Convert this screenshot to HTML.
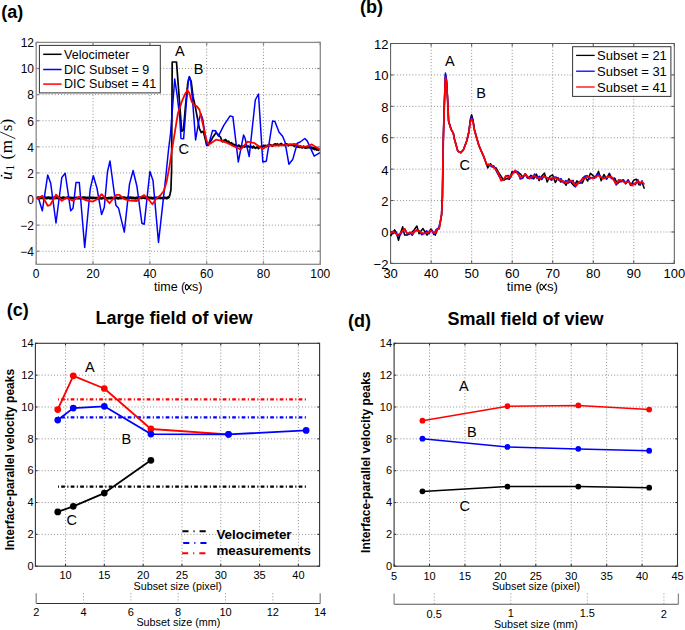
<!DOCTYPE html>
<html><head><meta charset="utf-8"><style>
html,body{margin:0;padding:0;background:#fff;overflow:hidden;width:685px;height:630px;}
svg{display:block;font-family:"Liberation Sans",sans-serif;}
</style></head><body>
<svg width="685" height="630" viewBox="0 0 685 630">
<rect width="685" height="630" fill="#fff"/>
<line x1="93.02" y1="42.40" x2="93.02" y2="264.30" stroke="#8f8f8f" stroke-width="1" stroke-dasharray="1 2.1"/>
<line x1="149.84" y1="42.40" x2="149.84" y2="264.30" stroke="#8f8f8f" stroke-width="1" stroke-dasharray="1 2.1"/>
<line x1="206.66" y1="42.40" x2="206.66" y2="264.30" stroke="#8f8f8f" stroke-width="1" stroke-dasharray="1 2.1"/>
<line x1="263.48" y1="42.40" x2="263.48" y2="264.30" stroke="#8f8f8f" stroke-width="1" stroke-dasharray="1 2.1"/>
<line x1="36.20" y1="251.25" x2="320.30" y2="251.25" stroke="#8f8f8f" stroke-width="1" stroke-dasharray="1 2.1"/>
<line x1="36.20" y1="225.14" x2="320.30" y2="225.14" stroke="#8f8f8f" stroke-width="1" stroke-dasharray="1 2.1"/>
<line x1="36.20" y1="199.04" x2="320.30" y2="199.04" stroke="#8f8f8f" stroke-width="1" stroke-dasharray="1 2.1"/>
<line x1="36.20" y1="172.93" x2="320.30" y2="172.93" stroke="#8f8f8f" stroke-width="1" stroke-dasharray="1 2.1"/>
<line x1="36.20" y1="146.82" x2="320.30" y2="146.82" stroke="#8f8f8f" stroke-width="1" stroke-dasharray="1 2.1"/>
<line x1="36.20" y1="120.72" x2="320.30" y2="120.72" stroke="#8f8f8f" stroke-width="1" stroke-dasharray="1 2.1"/>
<line x1="36.20" y1="94.61" x2="320.30" y2="94.61" stroke="#8f8f8f" stroke-width="1" stroke-dasharray="1 2.1"/>
<line x1="36.20" y1="68.51" x2="320.30" y2="68.51" stroke="#8f8f8f" stroke-width="1" stroke-dasharray="1 2.1"/>
<line x1="36.20" y1="264.30" x2="36.20" y2="261.30" stroke="#8a8a8a" stroke-width="1.3" />
<line x1="36.20" y1="42.40" x2="36.20" y2="45.40" stroke="#8a8a8a" stroke-width="1.3" />
<line x1="93.02" y1="264.30" x2="93.02" y2="261.30" stroke="#8a8a8a" stroke-width="1.3" />
<line x1="93.02" y1="42.40" x2="93.02" y2="45.40" stroke="#8a8a8a" stroke-width="1.3" />
<line x1="149.84" y1="264.30" x2="149.84" y2="261.30" stroke="#8a8a8a" stroke-width="1.3" />
<line x1="149.84" y1="42.40" x2="149.84" y2="45.40" stroke="#8a8a8a" stroke-width="1.3" />
<line x1="206.66" y1="264.30" x2="206.66" y2="261.30" stroke="#8a8a8a" stroke-width="1.3" />
<line x1="206.66" y1="42.40" x2="206.66" y2="45.40" stroke="#8a8a8a" stroke-width="1.3" />
<line x1="263.48" y1="264.30" x2="263.48" y2="261.30" stroke="#8a8a8a" stroke-width="1.3" />
<line x1="263.48" y1="42.40" x2="263.48" y2="45.40" stroke="#8a8a8a" stroke-width="1.3" />
<line x1="320.30" y1="264.30" x2="320.30" y2="261.30" stroke="#8a8a8a" stroke-width="1.3" />
<line x1="320.30" y1="42.40" x2="320.30" y2="45.40" stroke="#8a8a8a" stroke-width="1.3" />
<line x1="36.20" y1="251.25" x2="39.20" y2="251.25" stroke="#8a8a8a" stroke-width="1.3" />
<line x1="320.30" y1="251.25" x2="317.30" y2="251.25" stroke="#8a8a8a" stroke-width="1.3" />
<line x1="36.20" y1="225.14" x2="39.20" y2="225.14" stroke="#8a8a8a" stroke-width="1.3" />
<line x1="320.30" y1="225.14" x2="317.30" y2="225.14" stroke="#8a8a8a" stroke-width="1.3" />
<line x1="36.20" y1="199.04" x2="39.20" y2="199.04" stroke="#8a8a8a" stroke-width="1.3" />
<line x1="320.30" y1="199.04" x2="317.30" y2="199.04" stroke="#8a8a8a" stroke-width="1.3" />
<line x1="36.20" y1="172.93" x2="39.20" y2="172.93" stroke="#8a8a8a" stroke-width="1.3" />
<line x1="320.30" y1="172.93" x2="317.30" y2="172.93" stroke="#8a8a8a" stroke-width="1.3" />
<line x1="36.20" y1="146.82" x2="39.20" y2="146.82" stroke="#8a8a8a" stroke-width="1.3" />
<line x1="320.30" y1="146.82" x2="317.30" y2="146.82" stroke="#8a8a8a" stroke-width="1.3" />
<line x1="36.20" y1="120.72" x2="39.20" y2="120.72" stroke="#8a8a8a" stroke-width="1.3" />
<line x1="320.30" y1="120.72" x2="317.30" y2="120.72" stroke="#8a8a8a" stroke-width="1.3" />
<line x1="36.20" y1="94.61" x2="39.20" y2="94.61" stroke="#8a8a8a" stroke-width="1.3" />
<line x1="320.30" y1="94.61" x2="317.30" y2="94.61" stroke="#8a8a8a" stroke-width="1.3" />
<line x1="36.20" y1="68.51" x2="39.20" y2="68.51" stroke="#8a8a8a" stroke-width="1.3" />
<line x1="320.30" y1="68.51" x2="317.30" y2="68.51" stroke="#8a8a8a" stroke-width="1.3" />
<line x1="36.20" y1="42.40" x2="39.20" y2="42.40" stroke="#8a8a8a" stroke-width="1.3" />
<line x1="320.30" y1="42.40" x2="317.30" y2="42.40" stroke="#8a8a8a" stroke-width="1.3" />
<rect x="36.20" y="42.40" width="284.10" height="221.90" fill="none" stroke="#8a8a8a" stroke-width="1.3"/>
<g fill="none" stroke-linejoin="round">
<polyline points="37.0,197.9 38.2,197.7 39.4,197.9 40.6,197.8 41.8,198.0 43.0,198.0 44.2,197.6 45.4,197.5 46.6,198.2 47.8,197.7 49.0,197.7 50.2,198.3 51.4,197.9 52.6,198.2 53.8,197.9 55.0,198.0 56.2,197.6 57.4,198.0 58.6,198.2 59.8,197.9 61.0,198.1 62.2,198.0 63.4,197.6 64.6,198.1 65.8,198.0 67.0,197.7 68.2,197.5 69.4,198.2 70.6,197.9 71.8,198.1 73.0,198.2 74.2,198.1 75.4,198.2 76.6,197.8 77.8,198.1 79.0,197.9 80.2,198.2 81.4,198.2 82.6,197.6 83.8,197.6 85.0,197.7 86.2,198.3 87.4,197.8 88.6,198.0 89.8,197.7 91.0,197.9 92.2,197.8 93.4,197.8 94.6,198.0 95.8,198.0 97.0,198.2 98.2,198.0 99.4,198.2 100.6,198.2 101.8,198.3 103.0,198.0 104.2,197.6 105.4,198.2 106.6,198.3 107.8,198.2 109.0,198.0 110.2,198.1 111.4,197.7 112.6,198.2 113.8,198.0 115.0,197.7 116.2,197.6 117.4,198.2 118.6,198.3 119.8,197.6 121.0,198.1 122.2,197.8 123.4,197.6 124.6,197.7 125.8,198.1 127.0,198.2 128.2,197.5 129.4,198.0 130.6,197.5 131.8,198.1 133.0,197.8 134.2,198.2 135.4,198.3 136.6,197.9 137.8,198.3 139.0,197.7 140.2,197.6 141.4,198.0 142.6,197.5 143.8,197.7 145.0,197.8 146.2,198.0 147.4,197.6 148.6,197.5 149.8,198.2 151.0,197.8 152.2,198.3 153.4,198.2 154.6,197.8 155.8,197.9 157.0,197.9 158.2,198.0 159.4,198.0 160.6,197.9 161.8,198.0 163.0,198.3 164.2,197.9 165.4,197.8 166.6,198.1 167.8,197.7 169.5,196.5" stroke="#000" stroke-width="2.7"/>
<polyline points="169.5,196.5 170.9,190.0 171.6,170.0 172.2,62.0 176.5,62.0 177.9,80.4 179.8,105.8 181.7,131.2 183.4,130.0 185.5,105.8 187.8,82.9 189.3,77.2 191.2,81.7 193.1,96.9 195.6,108.3 197.5,118.5 199.4,128.7 201.3,132.5 203.3,131.2 205.5,140.0 206.7,145.5 208.5,143.5 210.2,142.0 213.0,137.0 216.0,132.7 218.0,134.5 220.7,137.4 221.5,140.1" stroke="#000" stroke-width="1.7"/>
<polyline points="221.5,140.1 222.5,141.6 223.5,140.5 224.5,140.6 225.5,139.7 226.5,141.1 227.5,142.0 228.5,141.3 229.5,143.1 230.5,143.6 231.5,142.8 232.5,144.4 233.5,144.4 234.5,145.3 235.5,144.9 236.5,146.1 237.5,146.5 238.5,145.3 239.5,145.7 240.5,147.1 241.5,147.7 242.5,146.2 243.5,146.6 244.5,146.9 245.5,146.3 246.5,146.4 247.5,146.3 248.5,146.4 249.5,147.0 250.5,146.5 251.5,146.8 252.5,147.8 253.5,146.3 254.5,147.6 255.5,148.1 256.5,147.3 257.5,147.2 258.5,148.5 259.5,147.0 260.5,146.6 261.5,146.9 262.5,147.2 263.5,145.6 264.5,145.9 265.5,145.6 266.5,146.5 267.5,145.4 268.5,146.2 269.5,144.6 270.5,144.9 271.5,145.5 272.5,146.0 273.5,144.9 274.5,144.3 275.5,144.0 276.5,144.9 277.5,144.0 278.5,145.3 279.5,145.3 280.5,143.8 281.5,143.9 282.5,145.2 283.5,144.9 284.5,145.3 285.5,144.4 286.5,144.0 287.5,144.4 288.5,145.6 289.5,144.5 290.5,144.8 291.5,145.0 292.5,145.1 293.5,145.1 294.5,146.3 295.5,144.7 296.5,144.6 297.5,146.8 298.5,146.9 299.5,147.3 300.5,146.2 301.5,147.5 302.5,147.6 303.5,146.3 304.5,147.6 305.5,148.0 306.5,147.7 307.5,147.6 308.5,147.3 309.5,147.6 310.5,147.5 311.5,147.3 312.5,148.6 313.5,148.0 314.5,149.3 315.5,147.8 316.5,149.9 317.5,149.5 318.5,150.2 319.5,150.3" stroke="#000" stroke-width="2.1"/>
<polyline points="36.5,197.9 38.5,198.3 42.3,210.8 47.7,175.0 50.7,183.3 56.0,223.0 61.8,177.5 65.2,173.3 70.7,210.8 73.0,208.3 76.0,182.5 79.3,182.5 84.7,247.5 90.2,189.2 93.3,175.7 97.0,188.3 101.6,214.6 104.3,207.3 107.5,171.5 110.0,161.0 115.9,205.2 118.6,208.3 124.3,232.1 129.5,184.1 133.1,170.5 136.9,186.2 141.9,223.3 144.2,224.3 149.9,171.5 153.0,180.5 158.5,242.4 163.8,194.8 165.7,177.6 168.6,149.0 170.5,133.8 174.7,79.1 177.2,95.6 179.8,118.5 181.0,138.5 183.6,138.8 186.1,105.8 188.3,80.4 189.3,76.6 190.6,80.4 192.5,99.4 195.6,140.0 198.8,121.0 200.7,113.4 202.6,118.5 206.8,144.5 208.4,145.5 212.6,130.4 215.6,130.8 218.4,136.2 223.8,125.3 230.1,115.9 232.9,116.8 238.3,161.9 243.6,135.0 245.0,138.0 249.2,156.5 255.3,100.0 258.5,94.0 262.8,161.9 266.3,161.2 272.6,121.0 274.9,121.5 279.1,132.2 282.6,136.2 285.0,142.0 288.9,164.2 292.7,159.6 297.3,143.2 300.2,142.0 304.8,138.5 307.2,140.9 314.2,156.1 320.0,152.6" stroke="#0000ff" stroke-width="1.5"/>
<polyline points="36.5,198.0 38.5,198.3 42.3,195.8 47.7,205.8 50.2,205.0 56.0,194.7 61.8,200.8 66.5,197.8 72.7,200.7 79.0,196.8 85.2,200.0 92.5,201.6 97.3,199.2 101.6,194.1 109.5,203.2 116.3,194.8 119.5,194.9 124.3,199.2 129.8,200.5 136.9,201.0 140.0,197.6 144.2,195.1 148.6,199.5 152.4,204.3 156.2,198.6 160.0,195.7 163.8,191.0 166.7,181.4 169.5,166.2 172.4,147.1 174.3,135.7 177.9,113.4 181.7,102.0 184.8,94.4 187.4,90.3 189.3,93.1 191.8,102.0 194.4,105.2 196.9,106.4 199.4,109.6 201.3,117.2 203.3,126.1 205.2,135.0 206.7,140.9 209.0,144.4 216.0,139.7 221.9,140.9 227.7,143.2 234.7,146.7 240.6,149.5 247.6,141.6 254.6,143.2 262.8,149.0 267.5,145.5 276.8,145.5 286.1,144.8 294.3,143.9 301.3,146.7 306.0,146.7 311.8,144.4 320.0,149.5" stroke="#ff0000" stroke-width="1.8"/>
</g>
<rect x="39.4" y="45.4" width="120.9" height="47.5" fill="#fff" stroke="#333" stroke-width="1"/>
<line x1="43.20" y1="54.30" x2="61.60" y2="54.30" stroke="#000" stroke-width="1.5" />
<line x1="43.20" y1="69.50" x2="61.60" y2="69.50" stroke="#0000ff" stroke-width="1.5" />
<line x1="43.20" y1="84.10" x2="61.60" y2="84.10" stroke="#ff0000" stroke-width="1.5" />
<text x="64.10" y="58.58" style="font-size:12.5px;" fill="#000" >Velocimeter</text>
<text x="64.10" y="73.78" style="font-size:12.5px;" fill="#000" >DIC Subset = 9</text>
<text x="64.10" y="88.38" style="font-size:12.5px;" fill="#000" >DIC Subset = 41</text>
<text x="174.90" y="55.70" style="font-size:14.5px;" fill="#000" >A</text>
<text x="193.80" y="73.70" style="font-size:14.5px;" fill="#000" >B</text>
<text x="178.50" y="153.85" style="font-size:14.5px;" fill="#000" >C</text>
<text x="20.32" y="256.09" style="font-size:12px;" fill="#000" >−4</text>
<text x="20.32" y="230.04" style="font-size:12px;" fill="#000" >−2</text>
<text x="27.34" y="203.88" style="font-size:12px;" fill="#000" >0</text>
<text x="27.34" y="177.83" style="font-size:12px;" fill="#000" >2</text>
<text x="27.34" y="151.66" style="font-size:12px;" fill="#000" >4</text>
<text x="27.34" y="125.56" style="font-size:12px;" fill="#000" >6</text>
<text x="27.34" y="99.45" style="font-size:12px;" fill="#000" >8</text>
<text x="20.68" y="73.35" style="font-size:12px;" fill="#000" >10</text>
<text x="20.68" y="47.30" style="font-size:12px;" fill="#000" >12</text>
<text x="32.87" y="278.20" style="font-size:12px;" fill="#000" >0</text>
<text x="86.36" y="278.20" style="font-size:12px;" fill="#000" >20</text>
<text x="143.18" y="278.20" style="font-size:12px;" fill="#000" >40</text>
<text x="200.00" y="278.20" style="font-size:12px;" fill="#000" >60</text>
<text x="256.82" y="278.20" style="font-size:12px;" fill="#000" >80</text>
<text x="310.28" y="278.20" style="font-size:12px;" fill="#000" >100</text>
<text x="153.98" y="290.50" style="font-size:12.5px">time (</text>
<path d="M191.73,284.50 C189.84,284.50 188.19,289.91 186.78,289.91 C185.84,289.91 185.37,288.62 185.37,287.32 C185.37,285.91 185.96,284.61 186.90,284.61 C188.31,284.61 189.84,290.03 191.73,290.03" fill="none" stroke="#000" stroke-width="1.1"/>
<text x="192.00" y="290.50" style="font-size:12.5px">s)</text>
<g transform="translate(12.2,180.6) rotate(-90)"><text x="0.6" y="0" style="font-family:'Liberation Serif',serif;font-size:17px;font-style:italic">u</text><text x="10.0" y="2.2" style="font-family:'Liberation Serif',serif;font-size:11.7px">1</text><text x="21.2" y="0" style="font-family:'Liberation Serif',serif;font-size:17px">(</text><text x="27.3" y="0" style="font-family:'Liberation Serif',serif;font-size:17px">m</text><line x1="41.9" y1="3.2" x2="48.7" y2="-12.0" stroke="#000" stroke-width="0.85"/><text x="49.4" y="0" style="font-family:'Liberation Serif',serif;font-size:17px">s</text><text x="56.2" y="0" style="font-family:'Liberation Serif',serif;font-size:17px">)</text><circle cx="4.9" cy="-10.6" r="0.85" fill="#000"/></g>
<text x="1.20" y="18.05" style="font-size:18px;font-weight:bold;" fill="#000" >(a)</text>
<line x1="431.13" y1="43.50" x2="431.13" y2="263.40" stroke="#8f8f8f" stroke-width="1" stroke-dasharray="1 2.1"/>
<line x1="471.66" y1="43.50" x2="471.66" y2="263.40" stroke="#8f8f8f" stroke-width="1" stroke-dasharray="1 2.1"/>
<line x1="512.19" y1="43.50" x2="512.19" y2="263.40" stroke="#8f8f8f" stroke-width="1" stroke-dasharray="1 2.1"/>
<line x1="552.71" y1="43.50" x2="552.71" y2="263.40" stroke="#8f8f8f" stroke-width="1" stroke-dasharray="1 2.1"/>
<line x1="593.24" y1="43.50" x2="593.24" y2="263.40" stroke="#8f8f8f" stroke-width="1" stroke-dasharray="1 2.1"/>
<line x1="633.77" y1="43.50" x2="633.77" y2="263.40" stroke="#8f8f8f" stroke-width="1" stroke-dasharray="1 2.1"/>
<line x1="390.60" y1="231.99" x2="674.30" y2="231.99" stroke="#8f8f8f" stroke-width="1" stroke-dasharray="1 2.1"/>
<line x1="390.60" y1="200.57" x2="674.30" y2="200.57" stroke="#8f8f8f" stroke-width="1" stroke-dasharray="1 2.1"/>
<line x1="390.60" y1="169.16" x2="674.30" y2="169.16" stroke="#8f8f8f" stroke-width="1" stroke-dasharray="1 2.1"/>
<line x1="390.60" y1="137.74" x2="674.30" y2="137.74" stroke="#8f8f8f" stroke-width="1" stroke-dasharray="1 2.1"/>
<line x1="390.60" y1="106.33" x2="674.30" y2="106.33" stroke="#8f8f8f" stroke-width="1" stroke-dasharray="1 2.1"/>
<line x1="390.60" y1="74.91" x2="674.30" y2="74.91" stroke="#8f8f8f" stroke-width="1" stroke-dasharray="1 2.1"/>
<line x1="390.60" y1="263.40" x2="390.60" y2="260.40" stroke="#555" stroke-width="1.0" />
<line x1="390.60" y1="43.50" x2="390.60" y2="46.50" stroke="#555" stroke-width="1.0" />
<line x1="431.13" y1="263.40" x2="431.13" y2="260.40" stroke="#555" stroke-width="1.0" />
<line x1="431.13" y1="43.50" x2="431.13" y2="46.50" stroke="#555" stroke-width="1.0" />
<line x1="471.66" y1="263.40" x2="471.66" y2="260.40" stroke="#555" stroke-width="1.0" />
<line x1="471.66" y1="43.50" x2="471.66" y2="46.50" stroke="#555" stroke-width="1.0" />
<line x1="512.19" y1="263.40" x2="512.19" y2="260.40" stroke="#555" stroke-width="1.0" />
<line x1="512.19" y1="43.50" x2="512.19" y2="46.50" stroke="#555" stroke-width="1.0" />
<line x1="552.71" y1="263.40" x2="552.71" y2="260.40" stroke="#555" stroke-width="1.0" />
<line x1="552.71" y1="43.50" x2="552.71" y2="46.50" stroke="#555" stroke-width="1.0" />
<line x1="593.24" y1="263.40" x2="593.24" y2="260.40" stroke="#555" stroke-width="1.0" />
<line x1="593.24" y1="43.50" x2="593.24" y2="46.50" stroke="#555" stroke-width="1.0" />
<line x1="633.77" y1="263.40" x2="633.77" y2="260.40" stroke="#555" stroke-width="1.0" />
<line x1="633.77" y1="43.50" x2="633.77" y2="46.50" stroke="#555" stroke-width="1.0" />
<line x1="674.30" y1="263.40" x2="674.30" y2="260.40" stroke="#555" stroke-width="1.0" />
<line x1="674.30" y1="43.50" x2="674.30" y2="46.50" stroke="#555" stroke-width="1.0" />
<line x1="390.60" y1="263.40" x2="393.60" y2="263.40" stroke="#555" stroke-width="1.0" />
<line x1="674.30" y1="263.40" x2="671.30" y2="263.40" stroke="#555" stroke-width="1.0" />
<line x1="390.60" y1="231.99" x2="393.60" y2="231.99" stroke="#555" stroke-width="1.0" />
<line x1="674.30" y1="231.99" x2="671.30" y2="231.99" stroke="#555" stroke-width="1.0" />
<line x1="390.60" y1="200.57" x2="393.60" y2="200.57" stroke="#555" stroke-width="1.0" />
<line x1="674.30" y1="200.57" x2="671.30" y2="200.57" stroke="#555" stroke-width="1.0" />
<line x1="390.60" y1="169.16" x2="393.60" y2="169.16" stroke="#555" stroke-width="1.0" />
<line x1="674.30" y1="169.16" x2="671.30" y2="169.16" stroke="#555" stroke-width="1.0" />
<line x1="390.60" y1="137.74" x2="393.60" y2="137.74" stroke="#555" stroke-width="1.0" />
<line x1="674.30" y1="137.74" x2="671.30" y2="137.74" stroke="#555" stroke-width="1.0" />
<line x1="390.60" y1="106.33" x2="393.60" y2="106.33" stroke="#555" stroke-width="1.0" />
<line x1="674.30" y1="106.33" x2="671.30" y2="106.33" stroke="#555" stroke-width="1.0" />
<line x1="390.60" y1="74.91" x2="393.60" y2="74.91" stroke="#555" stroke-width="1.0" />
<line x1="674.30" y1="74.91" x2="671.30" y2="74.91" stroke="#555" stroke-width="1.0" />
<line x1="390.60" y1="43.50" x2="393.60" y2="43.50" stroke="#555" stroke-width="1.0" />
<line x1="674.30" y1="43.50" x2="671.30" y2="43.50" stroke="#555" stroke-width="1.0" />
<rect x="390.60" y="43.50" width="283.70" height="219.90" fill="none" stroke="#555" stroke-width="1.0"/>
<g fill="none" stroke-linejoin="round">
<polyline points="390.6,236.0 392.5,233.0 394.6,229.9 396.5,233.0 398.5,240.4 400.5,233.0 402.7,226.8 404.6,235.1 407.0,235.0 409.5,234.0 411.5,232.5 414.0,230.0 416.9,226.0 419.1,233.8 421.0,231.0 423.0,228.6 425.0,232.0 427.0,235.1 429.0,232.0 430.9,229.0 433.0,232.0 435.3,235.1 437.5,229.5 439.2,228.6 440.6,220.3 441.6,214.4 441.9,207.8 442.4,196.7 442.9,162.9 443.3,140.3 444.2,108.5 444.6,97.3 445.4,75.0 446.5,80.4 447.3,94.2 447.6,99.3 448.6,121.2 450.0,125.8 451.0,129.1 452.7,132.1 453.3,133.1 454.4,138.9 455.4,142.5 457.8,151.1 458.1,151.3 460.7,152.7 460.8,152.6 463.3,150.0 463.5,149.5 466.2,142.4 466.7,141.1 468.9,131.3 468.9,131.3 470.3,119.5 471.6,114.8 471.6,114.8 473.0,119.6 474.3,128.5 474.4,129.2 477.0,139.0 478.9,145.6 479.7,147.4 482.4,153.6 483.3,155.6 485.1,160.3 487.8,167.9 490.5,163.7 493.2,167.4 495.9,167.7 498.6,172.3 501.3,176.7 504.0,180.1 506.7,178.5 509.4,179.3 512.1,171.5 514.8,172.5 517.5,171.8 520.2,173.8 522.9,177.4 525.6,174.0 528.3,178.4 531.0,175.3 533.7,178.9 536.4,174.1 539.1,180.6 541.8,176.0 544.5,173.1 547.2,182.0 549.9,176.4 552.6,174.8 555.3,182.6 558.0,177.7 560.7,182.0 563.4,181.1 566.1,185.3 568.8,178.7 571.5,182.9 574.2,186.1 576.9,180.8 579.6,182.8 582.3,183.1 585.0,176.9 587.7,181.0 590.4,173.2 593.1,175.6 595.8,177.6 598.5,171.3 601.2,180.7 603.9,174.5 606.6,178.8 609.3,173.3 612.0,178.7 614.7,178.1 617.4,183.8 620.1,181.1 622.8,180.0 625.5,183.1 628.2,179.8 630.9,185.1 633.6,180.3 636.3,179.2 639.0,184.8 641.7,181.4 644.4,188.7" stroke="#000" stroke-width="1.5"/>
<polyline points="390.6,231.3 393.0,233.7 395.4,231.3 397.8,236.2 400.2,235.0 402.6,231.2 405.0,229.0 407.4,234.5 409.8,232.3 412.2,235.3 414.6,231.0 417.0,230.5 419.4,230.8 421.8,234.8 424.2,232.8 426.6,230.7 429.0,233.9 431.4,229.5 433.8,234.6 436.2,229.3 438.6,228.0 440.6,220.3 441.0,217.9 441.6,214.4 442.4,196.7 442.9,162.6 443.3,139.7 443.4,136.1 444.2,107.3 445.4,73.0 445.8,75.2 446.5,79.2 447.6,98.8 448.2,112.4 448.6,121.2 450.6,127.8 451.0,129.1 453.0,132.6 453.3,133.1 454.4,138.9 455.4,142.5 457.8,151.1 457.8,151.1 460.2,152.4 460.7,152.7 462.6,150.7 463.3,150.0 465.0,145.6 466.7,141.1 467.4,138.3 468.9,132.0 469.8,124.8 470.3,120.9 471.6,116.8 472.2,118.6 473.0,120.9 474.4,129.9 474.6,130.7 477.0,139.0 478.9,145.6 479.4,146.7 481.8,152.2 483.3,155.6 484.2,157.9 486.6,164.8 489.0,164.3 491.4,166.8 493.8,165.7 496.2,171.0 498.6,175.5 501.0,179.2 503.4,180.2 505.8,176.3 508.2,175.4 510.6,177.8 513.0,172.0 515.4,170.9 517.8,171.8 520.2,179.1 522.6,178.4 525.0,173.8 527.4,178.2 529.8,176.7 532.2,178.6 534.6,174.0 537.0,178.5 539.4,176.3 541.8,179.5 544.2,175.8 546.6,178.3 549.0,178.0 551.4,180.3 553.8,177.3 556.2,177.1 558.6,180.1 561.0,178.6 563.4,182.8 565.8,180.5 568.2,183.0 570.6,181.5 573.0,180.3 575.4,186.9 577.8,182.7 580.2,183.1 582.6,178.0 585.0,176.1 587.4,175.7 589.8,179.0 592.2,177.4 594.6,178.2 597.0,174.0 599.4,174.8 601.8,178.7 604.2,177.4 606.6,179.2 609.0,174.9 611.4,178.5 613.8,178.7 616.2,185.1 618.6,179.9 621.0,182.0 623.4,179.7 625.8,183.9 628.2,180.3 630.6,185.4 633.0,183.0 635.4,184.8 637.8,179.6 640.2,185.1 642.6,180.3" stroke="#0000ff" stroke-width="1.5"/>
<polyline points="390.6,233.0 392.8,231.5 395.0,233.0 397.6,235.1 400.3,233.4 402.5,230.8 404.6,229.0 406.8,233.0 409.0,233.4 410.9,232.5 413.0,233.8 415.2,230.8 416.9,229.9 419.1,231.2 421.3,232.5 423.5,233.8 425.7,233.0 428.3,232.1 430.9,230.8 433.1,232.1 435.3,233.4 437.1,229.5 439.2,228.6 440.6,220.3 441.6,214.4 442.4,196.7 442.9,163.3 443.3,141.1 444.2,110.0 445.4,77.5 446.5,82.0 447.6,100.0 448.6,121.2 451.0,129.1 453.3,133.1 454.4,138.9 457.8,151.1 460.7,152.7 463.3,150.0 466.7,141.1 468.9,132.2 470.3,122.0 471.6,118.8 473.0,122.0 474.4,130.0 478.9,145.6 483.3,155.6 486.7,164.4 491.1,165.1 494.4,167.8 497.8,172.2 501.1,180.7 503.3,180.0 506.0,175.6 508.9,177.8 512.2,174.4 515.3,170.4 520.4,177.6 525.5,174.5 529.6,178.6 533.7,175.5 538.8,178.6 543.9,176.6 549.0,178.6 554.2,177.6 559.3,179.6 565.4,182.7 571.5,180.7 576.0,185.8 581.7,179.6 587.9,176.6 593.0,178.6 598.1,175.5 603.2,178.6 608.3,176.6 611.7,176.9 615.8,183.9 619.9,179.8 625.1,182.7 628.6,181.5 632.1,185.6 635.0,183.3 638.0,181.0 640.3,183.3 642.0,181.5 644.4,184.5" stroke="#ff0000" stroke-width="1.8"/>
</g>
<rect x="572.6" y="46.7" width="98.3" height="49.7" fill="#fff" stroke="#333" stroke-width="1"/>
<line x1="576.10" y1="55.40" x2="594.70" y2="55.40" stroke="#000" stroke-width="1.3" />
<line x1="576.10" y1="71.20" x2="594.70" y2="71.20" stroke="#0000ff" stroke-width="1.3" />
<line x1="576.10" y1="87.00" x2="594.70" y2="87.00" stroke="#ff0000" stroke-width="1.3" />
<text x="597.10" y="59.97" style="font-size:13px;" fill="#000" >Subset = 21</text>
<text x="597.10" y="75.77" style="font-size:13px;" fill="#000" >Subset = 31</text>
<text x="597.10" y="91.57" style="font-size:13px;" fill="#000" >Subset = 41</text>
<text x="445.10" y="66.40" style="font-size:14.5px;" fill="#000" >A</text>
<text x="476.30" y="98.20" style="font-size:14.5px;" fill="#000" >B</text>
<text x="459.50" y="170.45" style="font-size:14.5px;" fill="#000" >C</text>
<text x="373.58" y="268.85" style="font-size:13px;" fill="#000" >−2</text>
<text x="381.19" y="237.37" style="font-size:13px;" fill="#000" >0</text>
<text x="381.19" y="206.02" style="font-size:13px;" fill="#000" >2</text>
<text x="381.19" y="174.54" style="font-size:13px;" fill="#000" >4</text>
<text x="381.19" y="143.13" style="font-size:13px;" fill="#000" >6</text>
<text x="381.19" y="111.71" style="font-size:13px;" fill="#000" >8</text>
<text x="373.97" y="80.30" style="font-size:13px;" fill="#000" >10</text>
<text x="373.97" y="48.95" style="font-size:13px;" fill="#000" >12</text>
<text x="383.39" y="278.30" style="font-size:13px;" fill="#000" >30</text>
<text x="423.91" y="278.30" style="font-size:13px;" fill="#000" >40</text>
<text x="464.44" y="278.30" style="font-size:13px;" fill="#000" >50</text>
<text x="504.97" y="278.30" style="font-size:13px;" fill="#000" >60</text>
<text x="545.50" y="278.30" style="font-size:13px;" fill="#000" >70</text>
<text x="586.03" y="278.30" style="font-size:13px;" fill="#000" >80</text>
<text x="626.56" y="278.30" style="font-size:13px;" fill="#000" >90</text>
<text x="663.44" y="278.30" style="font-size:13px;" fill="#000" >100</text>
<text x="506.83" y="290.50" style="font-size:13.2px">time (</text>
<path d="M546.69,284.16 C544.70,284.16 542.96,289.88 541.47,289.88 C540.47,289.88 539.98,288.51 539.98,287.14 C539.98,285.65 540.60,284.29 541.59,284.29 C543.08,284.29 544.70,290.00 546.69,290.00" fill="none" stroke="#000" stroke-width="1.1"/>
<text x="546.98" y="290.50" style="font-size:13.2px">s)</text>
<text x="360.00" y="13.12" style="font-size:18px;font-weight:bold;" fill="#000" >(b)</text>
<line x1="65.50" y1="343.30" x2="65.50" y2="566.20" stroke="#8f8f8f" stroke-width="1" stroke-dasharray="1 2.1"/>
<line x1="104.31" y1="343.30" x2="104.31" y2="566.20" stroke="#8f8f8f" stroke-width="1" stroke-dasharray="1 2.1"/>
<line x1="143.13" y1="343.30" x2="143.13" y2="566.20" stroke="#8f8f8f" stroke-width="1" stroke-dasharray="1 2.1"/>
<line x1="181.94" y1="343.30" x2="181.94" y2="566.20" stroke="#8f8f8f" stroke-width="1" stroke-dasharray="1 2.1"/>
<line x1="220.76" y1="343.30" x2="220.76" y2="566.20" stroke="#8f8f8f" stroke-width="1" stroke-dasharray="1 2.1"/>
<line x1="259.57" y1="343.30" x2="259.57" y2="566.20" stroke="#8f8f8f" stroke-width="1" stroke-dasharray="1 2.1"/>
<line x1="298.39" y1="343.30" x2="298.39" y2="566.20" stroke="#8f8f8f" stroke-width="1" stroke-dasharray="1 2.1"/>
<line x1="35.40" y1="534.36" x2="319.60" y2="534.36" stroke="#8f8f8f" stroke-width="1" stroke-dasharray="1 2.1"/>
<line x1="35.40" y1="502.51" x2="319.60" y2="502.51" stroke="#8f8f8f" stroke-width="1" stroke-dasharray="1 2.1"/>
<line x1="35.40" y1="470.67" x2="319.60" y2="470.67" stroke="#8f8f8f" stroke-width="1" stroke-dasharray="1 2.1"/>
<line x1="35.40" y1="438.83" x2="319.60" y2="438.83" stroke="#8f8f8f" stroke-width="1" stroke-dasharray="1 2.1"/>
<line x1="35.40" y1="406.99" x2="319.60" y2="406.99" stroke="#8f8f8f" stroke-width="1" stroke-dasharray="1 2.1"/>
<line x1="35.40" y1="375.14" x2="319.60" y2="375.14" stroke="#8f8f8f" stroke-width="1" stroke-dasharray="1 2.1"/>
<line x1="65.50" y1="566.20" x2="65.50" y2="564.00" stroke="#333" stroke-width="1.1" />
<line x1="65.50" y1="343.30" x2="65.50" y2="345.50" stroke="#333" stroke-width="1.1" />
<line x1="104.31" y1="566.20" x2="104.31" y2="564.00" stroke="#333" stroke-width="1.1" />
<line x1="104.31" y1="343.30" x2="104.31" y2="345.50" stroke="#333" stroke-width="1.1" />
<line x1="143.13" y1="566.20" x2="143.13" y2="564.00" stroke="#333" stroke-width="1.1" />
<line x1="143.13" y1="343.30" x2="143.13" y2="345.50" stroke="#333" stroke-width="1.1" />
<line x1="181.94" y1="566.20" x2="181.94" y2="564.00" stroke="#333" stroke-width="1.1" />
<line x1="181.94" y1="343.30" x2="181.94" y2="345.50" stroke="#333" stroke-width="1.1" />
<line x1="220.76" y1="566.20" x2="220.76" y2="564.00" stroke="#333" stroke-width="1.1" />
<line x1="220.76" y1="343.30" x2="220.76" y2="345.50" stroke="#333" stroke-width="1.1" />
<line x1="259.57" y1="566.20" x2="259.57" y2="564.00" stroke="#333" stroke-width="1.1" />
<line x1="259.57" y1="343.30" x2="259.57" y2="345.50" stroke="#333" stroke-width="1.1" />
<line x1="298.39" y1="566.20" x2="298.39" y2="564.00" stroke="#333" stroke-width="1.1" />
<line x1="298.39" y1="343.30" x2="298.39" y2="345.50" stroke="#333" stroke-width="1.1" />
<line x1="35.40" y1="566.20" x2="37.60" y2="566.20" stroke="#333" stroke-width="1.1" />
<line x1="319.60" y1="566.20" x2="317.40" y2="566.20" stroke="#333" stroke-width="1.1" />
<line x1="35.40" y1="534.36" x2="37.60" y2="534.36" stroke="#333" stroke-width="1.1" />
<line x1="319.60" y1="534.36" x2="317.40" y2="534.36" stroke="#333" stroke-width="1.1" />
<line x1="35.40" y1="502.51" x2="37.60" y2="502.51" stroke="#333" stroke-width="1.1" />
<line x1="319.60" y1="502.51" x2="317.40" y2="502.51" stroke="#333" stroke-width="1.1" />
<line x1="35.40" y1="470.67" x2="37.60" y2="470.67" stroke="#333" stroke-width="1.1" />
<line x1="319.60" y1="470.67" x2="317.40" y2="470.67" stroke="#333" stroke-width="1.1" />
<line x1="35.40" y1="438.83" x2="37.60" y2="438.83" stroke="#333" stroke-width="1.1" />
<line x1="319.60" y1="438.83" x2="317.40" y2="438.83" stroke="#333" stroke-width="1.1" />
<line x1="35.40" y1="406.99" x2="37.60" y2="406.99" stroke="#333" stroke-width="1.1" />
<line x1="319.60" y1="406.99" x2="317.40" y2="406.99" stroke="#333" stroke-width="1.1" />
<line x1="35.40" y1="375.14" x2="37.60" y2="375.14" stroke="#333" stroke-width="1.1" />
<line x1="319.60" y1="375.14" x2="317.40" y2="375.14" stroke="#333" stroke-width="1.1" />
<line x1="35.40" y1="343.30" x2="37.60" y2="343.30" stroke="#333" stroke-width="1.1" />
<line x1="319.60" y1="343.30" x2="317.40" y2="343.30" stroke="#333" stroke-width="1.1" />
<rect x="35.40" y="343.30" width="284.20" height="222.90" fill="none" stroke="#333" stroke-width="1.1"/>
<line x1="58.00" y1="399.34" x2="306.00" y2="399.34" stroke="#ff0000" stroke-width="2.1" stroke-dasharray="3.7 2.4 1.1 2.3" stroke-dashoffset="6.3"/>
<line x1="58.00" y1="417.33" x2="306.00" y2="417.33" stroke="#0000ff" stroke-width="2.1" stroke-dasharray="3.7 2.4 1.1 2.3" stroke-dashoffset="6.3"/>
<line x1="58.00" y1="486.59" x2="306.00" y2="486.59" stroke="#000" stroke-width="2.1" stroke-dasharray="3.7 2.4 1.1 2.3" stroke-dashoffset="6.3"/>
<polyline points="57.7,409.5 73.3,375.8 104.3,388.5 150.9,429.0 228.5,434.4" fill="none" stroke="#ff0000" stroke-width="1.8" stroke-linejoin="round"/>
<circle cx="57.74" cy="409.53" r="3.35" fill="#ff0000"/>
<circle cx="73.26" cy="375.78" r="3.35" fill="#ff0000"/>
<circle cx="104.31" cy="388.52" r="3.35" fill="#ff0000"/>
<circle cx="150.89" cy="428.96" r="3.35" fill="#ff0000"/>
<circle cx="228.52" cy="434.37" r="3.35" fill="#ff0000"/>
<polyline points="57.7,420.0 73.3,408.1 104.3,406.3 150.9,434.1 228.5,434.4 306.2,430.4" fill="none" stroke="#0000ff" stroke-width="1.8" stroke-linejoin="round"/>
<circle cx="57.74" cy="420.04" r="3.35" fill="#0000ff"/>
<circle cx="73.26" cy="408.10" r="3.35" fill="#0000ff"/>
<circle cx="104.31" cy="406.35" r="3.35" fill="#0000ff"/>
<circle cx="150.89" cy="434.05" r="3.35" fill="#0000ff"/>
<circle cx="228.52" cy="434.37" r="3.35" fill="#0000ff"/>
<circle cx="306.15" cy="430.39" r="3.35" fill="#0000ff"/>
<polyline points="57.7,511.9 73.3,506.3 104.3,493.1 150.9,460.3" fill="none" stroke="#000" stroke-width="1.8" stroke-linejoin="round"/>
<circle cx="57.74" cy="511.91" r="3.35" fill="#000"/>
<circle cx="73.26" cy="506.34" r="3.35" fill="#000"/>
<circle cx="104.31" cy="493.12" r="3.35" fill="#000"/>
<circle cx="150.89" cy="460.32" r="3.35" fill="#000"/>
<text x="85.00" y="371.60" style="font-size:14.5px;" fill="#000" >A</text>
<text x="121.60" y="444.40" style="font-size:14.5px;" fill="#000" >B</text>
<text x="66.40" y="524.65" style="font-size:14.5px;" fill="#000" >C</text>
<line x1="182.40" y1="531.20" x2="206.30" y2="531.20" stroke="#000" stroke-width="2.0" stroke-dasharray="6.1 5 1.1 5"/>
<line x1="183.20" y1="543.00" x2="207.20" y2="543.00" stroke="#0000ff" stroke-width="2.0" stroke-dasharray="6.1 5 1.1 5"/>
<line x1="182.10" y1="553.30" x2="206.10" y2="553.30" stroke="#ff0000" stroke-width="2.0" stroke-dasharray="6.1 5 1.1 5"/>
<text x="216.40" y="539.17" style="font-size:13.4px;font-weight:bold;" fill="#000" >Velocimeter</text>
<text x="216.40" y="555.37" style="font-size:13.4px;font-weight:bold;" fill="#000" >measurements</text>
<text x="27.39" y="570.00" style="font-size:11px;" fill="#000" >0</text>
<text x="27.39" y="538.21" style="font-size:11px;" fill="#000" >2</text>
<text x="27.39" y="506.31" style="font-size:11px;" fill="#000" >4</text>
<text x="27.39" y="474.47" style="font-size:11px;" fill="#000" >6</text>
<text x="27.39" y="442.62" style="font-size:11px;" fill="#000" >8</text>
<text x="21.29" y="410.78" style="font-size:11px;" fill="#000" >10</text>
<text x="21.29" y="378.99" style="font-size:11px;" fill="#000" >12</text>
<text x="21.29" y="347.10" style="font-size:11px;" fill="#000" >14</text>
<text x="59.39" y="579.30" style="font-size:11px;" fill="#000" >10</text>
<text x="98.21" y="579.19" style="font-size:11px;" fill="#000" >15</text>
<text x="137.03" y="579.30" style="font-size:11px;" fill="#000" >20</text>
<text x="175.84" y="579.30" style="font-size:11px;" fill="#000" >25</text>
<text x="214.66" y="579.30" style="font-size:11px;" fill="#000" >30</text>
<text x="253.47" y="579.30" style="font-size:11px;" fill="#000" >35</text>
<text x="292.28" y="579.30" style="font-size:11px;" fill="#000" >40</text>
<text x="133.53" y="589.60" style="font-size:10.8px;" fill="#000" >Subset size (pixel)</text>
<line x1="36.20" y1="603.50" x2="320.20" y2="603.50" stroke="#333" stroke-width="1.1" />
<line x1="36.20" y1="593.20" x2="36.20" y2="603.50" stroke="#8a8a8a" stroke-width="1.3" />
<line x1="320.20" y1="593.20" x2="320.20" y2="603.50" stroke="#8a8a8a" stroke-width="1.3" />
<line x1="83.52" y1="593.20" x2="83.52" y2="603.50" stroke="#8f8f8f" stroke-width="1" stroke-dasharray="1 2.1"/>
<line x1="130.84" y1="593.20" x2="130.84" y2="603.50" stroke="#8f8f8f" stroke-width="1" stroke-dasharray="1 2.1"/>
<line x1="178.16" y1="593.20" x2="178.16" y2="603.50" stroke="#8f8f8f" stroke-width="1" stroke-dasharray="1 2.1"/>
<line x1="225.48" y1="593.20" x2="225.48" y2="603.50" stroke="#8f8f8f" stroke-width="1" stroke-dasharray="1 2.1"/>
<line x1="272.80" y1="593.20" x2="272.80" y2="603.50" stroke="#8f8f8f" stroke-width="1" stroke-dasharray="1 2.1"/>
<text x="33.15" y="616.30" style="font-size:11px;" fill="#000" >2</text>
<text x="80.47" y="616.19" style="font-size:11px;" fill="#000" >4</text>
<text x="127.79" y="616.30" style="font-size:11px;" fill="#000" >6</text>
<text x="175.11" y="616.30" style="font-size:11px;" fill="#000" >8</text>
<text x="219.38" y="616.30" style="font-size:11px;" fill="#000" >10</text>
<text x="266.69" y="616.30" style="font-size:11px;" fill="#000" >12</text>
<text x="314.01" y="616.19" style="font-size:11px;" fill="#000" >14</text>
<text x="136.39" y="626.10" style="font-size:10.8px;" fill="#000" >Subset size (mm)</text>
<text x="6.80" y="316.15" style="font-size:18px;font-weight:bold;" fill="#000" >(c)</text>
<text x="95.50" y="323.90" style="font-size:18px;font-weight:bold;" fill="#000" >Large field of view</text>
<g transform="translate(5.2,550.3) rotate(-90)"><text x="0.00" y="8.70" style="font-size:12px;font-weight:bold;" fill="#000" >Interface-parallel velocity peaks</text></g>
<line x1="429.53" y1="343.30" x2="429.53" y2="566.20" stroke="#8f8f8f" stroke-width="1" stroke-dasharray="1 2.1"/>
<line x1="464.95" y1="343.30" x2="464.95" y2="566.20" stroke="#8f8f8f" stroke-width="1" stroke-dasharray="1 2.1"/>
<line x1="500.38" y1="343.30" x2="500.38" y2="566.20" stroke="#8f8f8f" stroke-width="1" stroke-dasharray="1 2.1"/>
<line x1="535.80" y1="343.30" x2="535.80" y2="566.20" stroke="#8f8f8f" stroke-width="1" stroke-dasharray="1 2.1"/>
<line x1="571.23" y1="343.30" x2="571.23" y2="566.20" stroke="#8f8f8f" stroke-width="1" stroke-dasharray="1 2.1"/>
<line x1="606.65" y1="343.30" x2="606.65" y2="566.20" stroke="#8f8f8f" stroke-width="1" stroke-dasharray="1 2.1"/>
<line x1="642.08" y1="343.30" x2="642.08" y2="566.20" stroke="#8f8f8f" stroke-width="1" stroke-dasharray="1 2.1"/>
<line x1="394.10" y1="534.36" x2="677.50" y2="534.36" stroke="#8f8f8f" stroke-width="1" stroke-dasharray="1 2.1"/>
<line x1="394.10" y1="502.51" x2="677.50" y2="502.51" stroke="#8f8f8f" stroke-width="1" stroke-dasharray="1 2.1"/>
<line x1="394.10" y1="470.67" x2="677.50" y2="470.67" stroke="#8f8f8f" stroke-width="1" stroke-dasharray="1 2.1"/>
<line x1="394.10" y1="438.83" x2="677.50" y2="438.83" stroke="#8f8f8f" stroke-width="1" stroke-dasharray="1 2.1"/>
<line x1="394.10" y1="406.99" x2="677.50" y2="406.99" stroke="#8f8f8f" stroke-width="1" stroke-dasharray="1 2.1"/>
<line x1="394.10" y1="375.14" x2="677.50" y2="375.14" stroke="#8f8f8f" stroke-width="1" stroke-dasharray="1 2.1"/>
<line x1="394.10" y1="566.20" x2="394.10" y2="564.00" stroke="#333" stroke-width="1.1" />
<line x1="394.10" y1="343.30" x2="394.10" y2="345.50" stroke="#333" stroke-width="1.1" />
<line x1="429.53" y1="566.20" x2="429.53" y2="564.00" stroke="#333" stroke-width="1.1" />
<line x1="429.53" y1="343.30" x2="429.53" y2="345.50" stroke="#333" stroke-width="1.1" />
<line x1="464.95" y1="566.20" x2="464.95" y2="564.00" stroke="#333" stroke-width="1.1" />
<line x1="464.95" y1="343.30" x2="464.95" y2="345.50" stroke="#333" stroke-width="1.1" />
<line x1="500.38" y1="566.20" x2="500.38" y2="564.00" stroke="#333" stroke-width="1.1" />
<line x1="500.38" y1="343.30" x2="500.38" y2="345.50" stroke="#333" stroke-width="1.1" />
<line x1="535.80" y1="566.20" x2="535.80" y2="564.00" stroke="#333" stroke-width="1.1" />
<line x1="535.80" y1="343.30" x2="535.80" y2="345.50" stroke="#333" stroke-width="1.1" />
<line x1="571.23" y1="566.20" x2="571.23" y2="564.00" stroke="#333" stroke-width="1.1" />
<line x1="571.23" y1="343.30" x2="571.23" y2="345.50" stroke="#333" stroke-width="1.1" />
<line x1="606.65" y1="566.20" x2="606.65" y2="564.00" stroke="#333" stroke-width="1.1" />
<line x1="606.65" y1="343.30" x2="606.65" y2="345.50" stroke="#333" stroke-width="1.1" />
<line x1="642.08" y1="566.20" x2="642.08" y2="564.00" stroke="#333" stroke-width="1.1" />
<line x1="642.08" y1="343.30" x2="642.08" y2="345.50" stroke="#333" stroke-width="1.1" />
<line x1="677.50" y1="566.20" x2="677.50" y2="564.00" stroke="#333" stroke-width="1.1" />
<line x1="677.50" y1="343.30" x2="677.50" y2="345.50" stroke="#333" stroke-width="1.1" />
<line x1="394.10" y1="566.20" x2="396.30" y2="566.20" stroke="#333" stroke-width="1.1" />
<line x1="677.50" y1="566.20" x2="675.30" y2="566.20" stroke="#333" stroke-width="1.1" />
<line x1="394.10" y1="534.36" x2="396.30" y2="534.36" stroke="#333" stroke-width="1.1" />
<line x1="677.50" y1="534.36" x2="675.30" y2="534.36" stroke="#333" stroke-width="1.1" />
<line x1="394.10" y1="502.51" x2="396.30" y2="502.51" stroke="#333" stroke-width="1.1" />
<line x1="677.50" y1="502.51" x2="675.30" y2="502.51" stroke="#333" stroke-width="1.1" />
<line x1="394.10" y1="470.67" x2="396.30" y2="470.67" stroke="#333" stroke-width="1.1" />
<line x1="677.50" y1="470.67" x2="675.30" y2="470.67" stroke="#333" stroke-width="1.1" />
<line x1="394.10" y1="438.83" x2="396.30" y2="438.83" stroke="#333" stroke-width="1.1" />
<line x1="677.50" y1="438.83" x2="675.30" y2="438.83" stroke="#333" stroke-width="1.1" />
<line x1="394.10" y1="406.99" x2="396.30" y2="406.99" stroke="#333" stroke-width="1.1" />
<line x1="677.50" y1="406.99" x2="675.30" y2="406.99" stroke="#333" stroke-width="1.1" />
<line x1="394.10" y1="375.14" x2="396.30" y2="375.14" stroke="#333" stroke-width="1.1" />
<line x1="677.50" y1="375.14" x2="675.30" y2="375.14" stroke="#333" stroke-width="1.1" />
<line x1="394.10" y1="343.30" x2="396.30" y2="343.30" stroke="#333" stroke-width="1.1" />
<line x1="677.50" y1="343.30" x2="675.30" y2="343.30" stroke="#333" stroke-width="1.1" />
<rect x="394.10" y="343.30" width="283.40" height="222.90" fill="none" stroke="#333" stroke-width="1.1"/>
<polyline points="422.4,420.7 507.5,406.2 578.3,405.4 649.2,409.5" fill="none" stroke="#ff0000" stroke-width="1.5" stroke-linejoin="round"/>
<circle cx="422.44" cy="420.68" r="2.9" fill="#ff0000"/>
<circle cx="507.46" cy="406.19" r="2.9" fill="#ff0000"/>
<circle cx="578.31" cy="405.39" r="2.9" fill="#ff0000"/>
<circle cx="649.16" cy="409.53" r="2.9" fill="#ff0000"/>
<polyline points="422.4,438.7 507.5,446.9 578.3,448.9 649.2,450.8" fill="none" stroke="#0000ff" stroke-width="1.5" stroke-linejoin="round"/>
<circle cx="422.44" cy="438.67" r="2.9" fill="#0000ff"/>
<circle cx="507.46" cy="446.95" r="2.9" fill="#0000ff"/>
<circle cx="578.31" cy="448.86" r="2.9" fill="#0000ff"/>
<circle cx="649.16" cy="450.77" r="2.9" fill="#0000ff"/>
<polyline points="422.4,491.4 507.5,486.6 578.3,486.6 649.2,487.7" fill="none" stroke="#000" stroke-width="1.5" stroke-linejoin="round"/>
<circle cx="422.44" cy="491.37" r="2.9" fill="#000"/>
<circle cx="507.46" cy="486.59" r="2.9" fill="#000"/>
<circle cx="578.31" cy="486.59" r="2.9" fill="#000"/>
<circle cx="649.16" cy="487.71" r="2.9" fill="#000"/>
<text x="459.00" y="390.70" style="font-size:14.5px;" fill="#000" >A</text>
<text x="466.90" y="437.00" style="font-size:14.5px;" fill="#000" >B</text>
<text x="459.50" y="511.36" style="font-size:14.5px;" fill="#000" >C</text>
<text x="385.89" y="570.00" style="font-size:11px;" fill="#000" >0</text>
<text x="385.89" y="538.21" style="font-size:11px;" fill="#000" >2</text>
<text x="385.89" y="506.31" style="font-size:11px;" fill="#000" >4</text>
<text x="385.89" y="474.47" style="font-size:11px;" fill="#000" >6</text>
<text x="385.89" y="442.62" style="font-size:11px;" fill="#000" >8</text>
<text x="379.79" y="410.78" style="font-size:11px;" fill="#000" >10</text>
<text x="379.79" y="378.99" style="font-size:11px;" fill="#000" >12</text>
<text x="379.79" y="347.10" style="font-size:11px;" fill="#000" >14</text>
<text x="391.05" y="579.79" style="font-size:11px;" fill="#000" >5</text>
<text x="423.42" y="579.90" style="font-size:11px;" fill="#000" >10</text>
<text x="458.85" y="579.79" style="font-size:11px;" fill="#000" >15</text>
<text x="494.27" y="579.90" style="font-size:11px;" fill="#000" >20</text>
<text x="529.69" y="579.90" style="font-size:11px;" fill="#000" >25</text>
<text x="565.12" y="579.90" style="font-size:11px;" fill="#000" >30</text>
<text x="600.55" y="579.90" style="font-size:11px;" fill="#000" >35</text>
<text x="635.97" y="579.90" style="font-size:11px;" fill="#000" >40</text>
<text x="671.39" y="579.79" style="font-size:11px;" fill="#000" >45</text>
<text x="491.88" y="589.80" style="font-size:10.8px;" fill="#000" >Subset size (pixel)</text>
<line x1="394.10" y1="604.30" x2="678.40" y2="604.30" stroke="#555" stroke-width="1.1" />
<line x1="394.10" y1="593.50" x2="394.10" y2="604.30" stroke="#8a8a8a" stroke-width="1.3" />
<line x1="678.40" y1="593.50" x2="678.40" y2="604.30" stroke="#8a8a8a" stroke-width="1.3" />
<line x1="434.25" y1="593.50" x2="434.25" y2="604.30" stroke="#8f8f8f" stroke-width="1" stroke-dasharray="1 2.1"/>
<text x="426.61" y="617.50" style="font-size:11px;" fill="#000" >0.5</text>
<line x1="510.80" y1="593.50" x2="510.80" y2="604.30" stroke="#8f8f8f" stroke-width="1" stroke-dasharray="1 2.1"/>
<text x="507.75" y="617.39" style="font-size:11px;" fill="#000" >1</text>
<line x1="587.35" y1="593.50" x2="587.35" y2="604.30" stroke="#8f8f8f" stroke-width="1" stroke-dasharray="1 2.1"/>
<text x="579.70" y="617.39" style="font-size:11px;" fill="#000" >1.5</text>
<line x1="663.90" y1="593.50" x2="663.90" y2="604.30" stroke="#8f8f8f" stroke-width="1" stroke-dasharray="1 2.1"/>
<text x="660.85" y="617.50" style="font-size:11px;" fill="#000" >2</text>
<text x="493.89" y="627.60" style="font-size:10.8px;" fill="#000" >Subset size (mm)</text>
<text x="347.90" y="326.75" style="font-size:18px;font-weight:bold;" fill="#000" >(d)</text>
<text x="447.40" y="324.72" style="font-size:18px;font-weight:bold;" fill="#000" >Small field of view</text>
<g transform="translate(360.9,552.9) rotate(-90)"><text x="0.00" y="8.70" style="font-size:12px;font-weight:bold;" fill="#000" >Interface-parallel velocity peaks</text></g>
</svg>
</body></html>
